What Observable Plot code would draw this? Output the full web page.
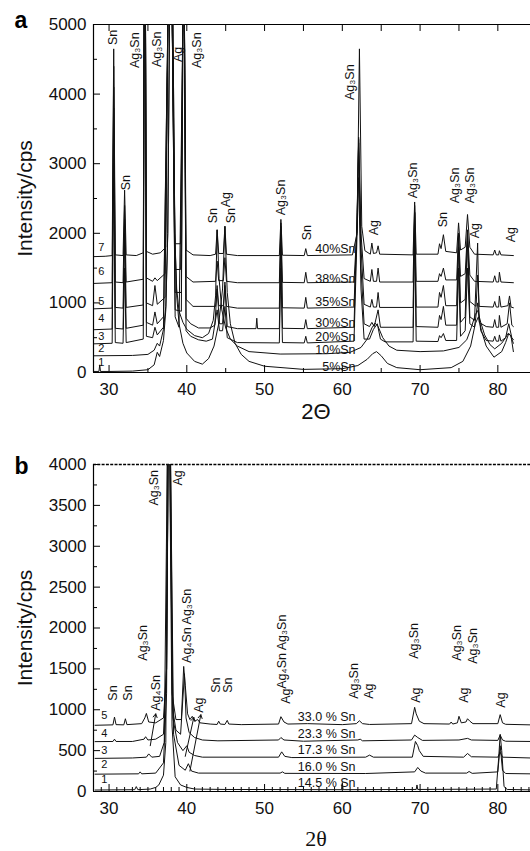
<!DOCTYPE html>
<html>
<head>
<meta charset="utf-8">
<script src="https://cdn.jsdelivr.net/npm/d3@7"></script>
<script src="https://cdn.jsdelivr.net/npm/@observablehq/plot@0.6"></script>
<style>
  html, body { margin: 0; padding: 0; background: #fff; }
  #chart svg { display: block; }
</style>
</head>
<body>
<div id="chart"></div>
<script>
// ---------- Panel a data (2θ, intensity in cps incl. offsets) ----------
const a1 = [[28.1,15],[28.7,15],[28.8,110],[28.9,15],[30.0,15],[33.0,20],[35.0,40],[35.8,110],[36.2,290],[36.5,230],[37.0,460],[37.3,900],[37.55,2000],[37.8,5300],[38.2,5300],[38.45,2000],[38.7,1100],[39.0,700],[39.5,420],[40.0,280],[41.0,160],[42.0,120],[42.8,200],[43.5,380],[44.1,700],[44.6,1200],[44.9,2100],[45.2,1150],[45.6,700],[46.2,420],[47.0,260],[48.0,160],[50.0,90],[55.0,45],[60.0,55],[62.0,100],[63.2,190],[63.9,270],[64.4,300],[65.0,240],[65.8,130],[67.0,70],[70.0,40],[74.0,70],[75.5,160],[76.5,380],[77.1,700],[77.5,800],[77.9,600],[78.5,380],[79.5,220],[80.5,300],[81.0,430],[81.4,560],[81.7,520],[82.0,300]];
const a2 = [[28.1,240],[33.0,245],[35.0,260],[35.8,320],[36.2,420],[36.5,380],[37.0,620],[37.3,950],[37.55,2000],[37.8,5300],[38.2,5300],[38.45,2000],[38.7,1200],[39.0,880],[39.5,720],[40.0,620],[41.0,530],[42.0,500],[42.8,560],[43.4,750],[43.7,1100],[43.9,2050],[44.15,1350],[44.5,900],[45.0,640],[45.6,480],[46.5,380],[48.0,300],[52.0,265],[58.0,270],[61.0,290],[62.4,360],[63.2,480],[63.8,640],[64.2,710],[64.6,660],[65.2,500],[66.0,380],[67.0,320],[70.0,300],[73.0,310],[75.0,360],[76.0,470],[76.6,650],[77.1,830],[77.4,890],[77.8,720],[78.3,540],[79.0,400],[79.6,340],[80.5,420],[81.0,500],[81.3,560],[81.6,540],[82.0,420]];
const a3 = [[28.1,412],[30.4,420],[30.6,3000],[30.8,430],[31.8,420],[32.0,1500],[32.2,430],[34.4,480],[34.52,5300],[34.68,5300],[34.8,520],[35.6,500],[35.9,650],[36.2,540],[37.0,650],[37.6,5300],[38.1,5300],[38.5,800],[39.0,650],[39.52,5300],[39.68,5300],[39.9,600],[40.5,520],[41.5,470],[42.5,450],[43.3,480],[43.9,900],[44.2,600],[44.6,600],[44.9,950],[45.2,500],[46.5,430],[51.9,425],[52.1,1500],[52.3,430],[55.1,425],[55.3,520],[55.5,425],[61.5,450],[61.9,2000],[62.1,2800],[62.4,1200],[62.8,480],[63.5,480],[64.0,620],[64.5,700],[64.9,480],[65.5,440],[69.1,440],[69.3,2000],[69.5,450],[72.3,445],[72.5,530],[72.7,500],[73.0,560],[73.3,460],[74.7,460],[74.95,1500],[75.2,520],[75.8,600],[76.1,1500],[76.4,700],[77.0,650],[77.4,1000],[77.8,600],[78.5,460],[79.4,450],[79.6,520],[79.8,450],[80.1,450],[80.2,540],[80.4,450],[81.0,500],[81.4,700],[81.8,500],[82.0,470]];
const a4 = [[28.1,615],[30.4,625],[30.6,3800],[30.8,635],[31.8,625],[32.0,2000],[32.2,635],[34.4,680],[34.52,5300],[34.68,5300],[34.8,720],[35.6,680],[35.9,870],[36.2,700],[37.0,800],[37.6,5300],[38.1,5300],[38.5,900],[39.3,880],[39.52,5300],[39.68,5300],[39.9,780],[40.5,700],[41.5,640],[43.0,640],[43.6,680],[43.9,1200],[44.2,700],[44.6,700],[44.9,1250],[45.2,660],[46.5,630],[48.9,630],[49.0,780],[49.1,630],[51.9,630],[52.1,2000],[52.3,635],[55.1,630],[55.3,760],[55.5,630],[61.5,650],[61.9,2300],[62.1,3300],[62.4,1500],[62.8,700],[63.5,660],[63.8,720],[64.1,660],[64.6,900],[64.9,650],[69.1,650],[69.3,2300],[69.5,660],[72.3,650],[72.5,820],[72.7,760],[73.0,950],[73.3,680],[74.7,680],[74.95,1800],[75.2,720],[75.8,800],[76.1,1900],[76.4,800],[77.0,750],[77.4,1860],[77.6,720],[78.5,660],[79.4,650],[79.6,760],[79.8,650],[80.1,650],[80.2,820],[80.4,650],[81.2,700],[81.5,1000],[81.8,680],[82.0,660]];
const a5 = [[28.1,915],[30.4,925],[30.6,4100],[30.8,935],[31.8,925],[32.0,2200],[32.2,935],[34.4,970],[34.52,5300],[34.68,5300],[34.8,1000],[35.6,960],[35.9,1250],[36.2,980],[37.2,1080],[37.6,5300],[38.1,5300],[38.5,1150],[39.3,1150],[39.52,5300],[39.68,5300],[39.9,1050],[40.8,950],[43.7,950],[43.9,1250],[44.1,960],[44.7,960],[44.9,1300],[45.1,950],[46.5,925],[51.9,925],[52.1,2100],[52.3,930],[55.1,925],[55.3,1080],[55.5,925],[61.5,940],[61.9,2200],[62.1,3350],[62.4,1800],[62.8,980],[63.6,940],[63.8,1050],[64.0,940],[64.4,940],[64.6,1150],[64.8,935],[69.1,935],[69.3,2300],[69.5,940],[72.3,940],[72.5,1150],[72.7,1080],[73.0,1250],[73.3,960],[74.7,960],[74.95,2000],[75.2,1000],[75.8,1050],[76.1,2000],[76.4,1020],[77.2,950],[77.4,1400],[77.6,950],[79.4,940],[79.6,1020],[79.8,940],[80.1,940],[80.2,1100],[80.4,940],[81.3,960],[81.5,1100],[81.7,940],[82.0,930]];
const a6 = [[28.1,1280],[30.4,1290],[30.6,4400],[30.8,1300],[31.8,1290],[32.0,2400],[32.2,1300],[34.4,1340],[34.52,5300],[34.68,5300],[34.8,1360],[35.6,1310],[35.9,1360],[36.2,1320],[37.2,1420],[37.6,5300],[38.1,5300],[38.5,1480],[39.2,1480],[39.52,5300],[39.68,5300],[39.9,1380],[40.8,1300],[43.7,1310],[43.9,1600],[44.1,1320],[44.7,1320],[44.9,1650],[45.1,1310],[46.5,1290],[51.9,1290],[52.1,2150],[52.3,1295],[55.1,1290],[55.3,1440],[55.5,1290],[61.5,1300],[61.9,2100],[62.1,3380],[62.4,2000],[62.8,1350],[63.6,1310],[63.8,1480],[64.0,1310],[64.4,1310],[64.6,1500],[64.8,1300],[69.1,1300],[69.3,2400],[69.5,1310],[72.3,1310],[72.5,1420],[72.7,1380],[73.0,1500],[73.3,1330],[74.7,1330],[74.95,2000],[75.2,1380],[75.8,1420],[76.1,2050],[76.4,1400],[77.0,1310],[79.4,1300],[79.6,1390],[79.8,1300],[80.1,1300],[80.2,1440],[80.4,1300],[82.0,1290]];
const a7 = [[28.1,1665],[29.5,1670],[30.4,1680],[30.6,4650],[30.8,1690],[31.8,1680],[32.0,2620],[32.2,1690],[33.5,1680],[34.4,1720],[34.52,5300],[34.68,5300],[34.8,1740],[35.6,1700],[36.6,1720],[37.3,1800],[37.6,5300],[38.1,5300],[38.5,1850],[39.2,1850],[39.52,5300],[39.68,5300],[39.9,1760],[40.8,1690],[43.0,1680],[43.7,1700],[43.9,2050],[44.1,1710],[44.7,1710],[44.9,2100],[45.1,1700],[46.5,1680],[51.9,1680],[52.1,2200],[52.3,1685],[55.1,1680],[55.3,1780],[55.5,1680],[61.3,1690],[61.9,2000],[62.2,4650],[62.5,2100],[62.9,1750],[63.6,1700],[63.8,1860],[64.0,1710],[64.4,1720],[64.6,1820],[64.8,1700],[69.1,1690],[69.3,2450],[69.5,1700],[72.3,1700],[72.5,1850],[72.7,1780],[73.0,1980],[73.3,1740],[74.7,1720],[74.95,2150],[75.2,1760],[75.8,1800],[76.1,2270],[76.4,1800],[77.0,1700],[79.4,1690],[79.6,1760],[79.8,1690],[80.1,1690],[80.2,1750],[80.4,1690],[82.0,1680]];
const seriesA = [["1", a1], ["2", a2], ["3", a3], ["4", a4], ["5", a5], ["6", a6], ["7", a7]];

const sampleLabelsA = [["40%Sn", 61.7, 1770], ["38%Sn", 61.7, 1338], ["35%Sn", 61.7, 1007], ["30%Sn", 61.7, 705], ["20%Sn", 61.7, 504], ["10%Sn", 61.7, 317], ["5%Sn", 61.7, 86]];
const curveNumbersA = [["7", 29.0, 1799], ["6", 29.0, 1453], ["5", 29.0, 1022], ["4", 29.0, 777], ["3", 29.0, 518], ["2", 29.0, 345], ["1", 29.0, 144]];
const peakLabelsA = [
  ["Sn", 30.57, 4705], ["Ag₃Sn", 33.40, 4374], ["Ag₃Sn", 36.23, 4388], ["Ag", 38.93, 4460], ["Ag₃Sn", 41.37, 4374],
  ["Sn", 32.24, 2619], ["Sn", 43.42, 2144], ["Ag", 45.10, 2374], ["Sn", 45.74, 2144], ["Ag₃Sn", 52.16, 2259],
  ["Sn", 55.51, 1899], ["Ag₃Sn", 61.03, 3914], ["Ag", 64.12, 1971], ["Ag₃Sn", 69.13, 2504], ["Sn", 72.99, 2086],
  ["Ag₃Sn", 74.53, 2432], ["Ag₃Sn", 76.46, 2432], ["Ag", 77.10, 1928], ["Ag", 81.73, 1871]
];

// ---------- Panel b data ----------
const b1 = [[28.2,18],[33.3,22],[33.5,60],[33.7,22],[35.3,30],[36.0,50],[36.4,80],[37.0,200],[37.3,600],[37.5,4100],[37.8,4100],[38.1,800],[38.5,180],[39.2,80],[40.0,50],[41.0,30],[45.0,25],[59.9,22],[60.0,110],[60.1,22],[69.5,25],[69.6,80],[69.7,25],[79.8,30],[80.1,400],[80.3,700],[80.5,500],[80.8,60],[81.2,25],[84.2,20]];
const b2 = [[28.2,212],[33.8,216],[34.0,240],[34.2,216],[36.0,225],[37.0,350],[37.4,1200],[37.6,4100],[37.9,4100],[38.3,700],[39.0,320],[39.8,260],[40.2,340],[40.6,250],[41.5,225],[52.0,225],[52.3,240],[52.6,222],[63.0,220],[69.3,240],[69.7,294],[70.1,250],[70.7,225],[76.0,225],[76.3,245],[76.7,222],[80.0,240],[80.3,560],[80.6,260],[81.0,220],[84.2,216]];
const b3 = [[28.2,405],[33.0,410],[34.8,420],[35.1,460],[35.5,420],[36.5,430],[37.1,600],[37.5,4100],[37.8,4100],[38.2,900],[38.8,600],[39.5,500],[40.0,560],[40.3,480],[41.0,440],[42.0,420],[51.8,420],[52.2,485],[52.6,430],[53.5,415],[63.0,420],[63.5,445],[64.0,420],[69.0,420],[69.4,612],[69.7,560],[69.9,500],[70.4,430],[75.6,420],[76.1,465],[76.6,425],[80.0,420],[80.3,480],[80.6,420],[84.2,410]];
const b4 = [[28.2,610],[30.5,612],[30.7,640],[30.9,612],[33.0,612],[34.5,640],[34.7,670],[35.0,630],[36.0,640],[37.0,700],[37.4,1500],[37.6,4100],[37.9,4100],[38.2,1000],[38.6,750],[39.2,700],[39.7,1440],[39.9,900],[40.3,720],[41.0,660],[42.0,630],[44.0,620],[51.8,630],[52.1,660],[52.5,630],[55.0,615],[62.0,630],[62.3,640],[62.6,620],[68.9,630],[69.3,690],[69.7,660],[70.3,625],[75.0,630],[76.1,650],[76.6,630],[80.0,625],[80.3,690],[80.6,630],[81.0,615],[84.2,612]];
const b5 = [[28.2,810],[30.5,815],[30.7,910],[30.9,818],[31.9,815],[32.1,890],[32.3,818],[34.2,830],[34.6,900],[34.8,955],[35.1,850],[36.0,840],[37.0,900],[37.4,1500],[37.6,4100],[37.9,4100],[38.1,1200],[38.6,880],[39.3,880],[39.6,1530],[39.8,1300],[40.1,950],[40.4,880],[40.7,920],[41.0,860],[41.4,880],[41.7,840],[43.0,825],[43.9,820],[44.1,860],[44.3,825],[44.9,820],[45.2,870],[45.4,825],[47.0,818],[51.8,825],[52.1,915],[52.5,850],[53.0,825],[55.5,830],[60.0,818],[61.8,830],[62.2,865],[62.6,830],[63.5,820],[68.9,830],[69.3,1030],[69.5,950],[69.9,860],[70.5,830],[73.8,825],[74.0,850],[74.2,825],[74.8,840],[75.0,920],[75.3,840],[75.9,850],[76.1,890],[76.4,860],[76.8,830],[80.0,830],[80.3,940],[80.6,840],[81.0,822],[84.2,815]];
const seriesB = [["1", b1], ["2", b2], ["3", b3], ["4", b4], ["5", b5]];

const sampleLabelsB = [["33.0 % Sn", 61.7, 914], ["23.3 % Sn", 61.7, 706], ["17.3 % Sn", 61.7, 510], ["16.0 % Sn", 61.7, 302], ["14.5 % Sn", 61.7, 107]];
const curveNumbersB = [["5", 29.4, 927], ["4", 29.4, 706], ["3", 29.4, 498], ["2", 29.4, 327], ["1", 29.4, 143]];
const peakLabelsB = [
  ["Sn", 30.45, 1111], ["Sn", 32.38, 1111], ["Ag₃Sn", 34.43, 1600], ["Ag₄Sn", 35.98, 988],
  ["Ag₃Sn", 35.72, 3497], ["Ag", 38.81, 3742], ["Ag₄Sn Ag₃Sn", 40.06, 1573], ["Ag", 41.51, 963],
  ["Sn", 43.70, 1208], ["Sn", 45.25, 1208], ["Ag", 52.71, 1073], ["Ag₄Sn Ag₃Sn", 52.20, 1257],
  ["Ag₃Sn", 61.46, 1134], ["Ag", 63.39, 1134], ["Ag₃Sn", 69.18, 1624], ["Ag", 69.44, 1086],
  ["Ag₃Sn", 74.72, 1600], ["Ag₃Sn", 76.78, 1563], ["Ag", 75.62, 1086], ["Ag", 80.38, 1025]
];
const arrowsB = [[35.3, 560, 36.0, 950], [39.8, 430, 40.9, 906], [40.4, 250, 41.8, 939]];

// ---------- ticks ----------
const xMajor = [30, 40, 50, 60, 70, 80];
const xFive = [30, 35, 40, 45, 50, 55, 60, 65, 70, 75, 80];
const xMinorA = [35, 45, 55, 65, 75];
const xOnes = d3.range(29, 85);
const yMajorA = [0, 1000, 2000, 3000, 4000, 5000];
const yMinorA = [500, 1500, 2500, 3500, 4500];
const yMajorB = [0, 500, 1000, 1500, 2000, 2500, 3000, 3500, 4000];
const yMinorB = [250, 750, 1250, 1750, 2250, 2750, 3250, 3750];

const FONT = "'Liberation Sans', Arial, Helvetica, sans-serif";
const W = 530, ML = 93, MR = 0;
const PW = W - ML - MR;

function rowsOf(series) {
  return series.flatMap(([id, pts]) => pts.map(([x, y]) => ({id, x, y})));
}

function panel(opts) {
  const {height, mt, mb, yDomain, yMajor, yMinor, series, samples, numbers, peaks, letter, letterDy, xLabel, xLabelFont, xLabelDy, bottomMinor, topTicks, dashedTop, arrows} = opts;
  const PH = height - mt - mb;
  const marks = [
    Plot.ruleX([28], {stroke: "#000", strokeWidth: 1.2}),
    Plot.ruleY([yDomain[0]], {stroke: "#000", strokeWidth: 1.2}),
    dashedTop
      ? Plot.ruleY([yDomain[1]], {stroke: "#000", strokeWidth: 1.4, strokeDasharray: "3,1.3"})
      : Plot.ruleY([yDomain[1]], {stroke: "#000", strokeWidth: 1.2}),
    Plot.tickX(xMajor, {x: d => d, insetTop: PH - 7, stroke: "#000"}),
    Plot.tickX(bottomMinor, {x: d => d, insetTop: PH - 4, stroke: "#000"}),
    Plot.tickY(yMajor, {y: d => d, insetRight: PW - 7, stroke: "#000"}),
    Plot.tickY(yMinor, {y: d => d, insetRight: PW - 4, stroke: "#000"}),
    Plot.line(rowsOf(series), {x: "x", y: "y", z: "id", stroke: "#111", strokeWidth: 1, clip: true}),
    Plot.text(samples, {x: d => d[1], y: d => d[2], text: d => d[0], textAnchor: "end", fontSize: 12.5, fill: "#111"}),
    Plot.text(numbers, {x: d => d[1], y: d => d[2], text: d => d[0], textAnchor: "middle", fontSize: 11, fill: "#111"}),
    Plot.text(peaks, {x: d => d[1], y: d => d[2], text: d => d[0], rotate: -90, textAnchor: "start", lineAnchor: "middle", fontSize: 12.5, fill: "#111"}),
    Plot.text([letter], {frameAnchor: "top-left", text: d => d, dx: -79, dy: letterDy, textAnchor: "start", lineAnchor: "bottom", fontSize: 23, fontWeight: "bold", fill: "#000"}),
    Plot.text(["Intensity/cps"], {frameAnchor: "left", text: d => d, dx: -68, rotate: -90, textAnchor: "middle", lineAnchor: "middle", fontSize: 21, fill: "#111"}),
    Plot.text([xLabel], {frameAnchor: "bottom", text: d => d, dx: 4, dy: xLabelDy, textAnchor: "middle", lineAnchor: "bottom", fontSize: 22, fontFamily: xLabelFont, fill: "#111"})
  ];
  if (topTicks) marks.push(Plot.tickX(topTicks, {x: d => d, insetBottom: PH - 7, stroke: "#000"}));
  if (arrows) marks.push(Plot.arrow(arrows, {x1: d => d[0], y1: d => d[1], x2: d => d[2], y2: d => d[3], stroke: "#111", strokeWidth: 1, headLength: 6, bend: 0}));
  return Plot.plot({
    width: W, height,
    marginLeft: ML, marginRight: MR, marginTop: mt, marginBottom: mb,
    style: {fontFamily: FONT, fontSize: "17px", color: "#111", background: "#fff", overflow: "visible"},
    x: {domain: [28, 84.2], ticks: xMajor, tickSize: 0, tickPadding: 10, tickFormat: d => String(d), label: null},
    y: {domain: yDomain, ticks: yMajor, tickSize: 0, tickPadding: 7, tickFormat: d => String(d), label: null},
    marks
  });
}

const chart = document.getElementById("chart");
chart.appendChild(panel({
  height: 425, mt: 24, mb: 53, yDomain: [0, 5000], yMajor: yMajorA, yMinor: yMinorA,
  series: seriesA, samples: sampleLabelsA, numbers: curveNumbersA, peaks: peakLabelsA,
  letter: "a", letterDy: 3, xLabel: "2Θ", xLabelFont: FONT, xLabelDy: 46,
  bottomMinor: xMinorA, topTicks: xFive, dashedTop: false, arrows: null
}));
chart.appendChild(panel({
  height: 426, mt: 39, mb: 60, yDomain: [0, 4000], yMajor: yMajorB, yMinor: yMinorB,
  series: seriesB, samples: sampleLabelsB, numbers: curveNumbersB, peaks: peakLabelsB,
  letter: "b", letterDy: 9, xLabel: "2θ", xLabelFont: "'Liberation Serif', 'Times New Roman', serif", xLabelDy: 54,
  bottomMinor: xOnes.filter(d => !xMajor.includes(d)), topTicks: null, dashedTop: true, arrows: arrowsB
}));
</script>
</body>
</html>
